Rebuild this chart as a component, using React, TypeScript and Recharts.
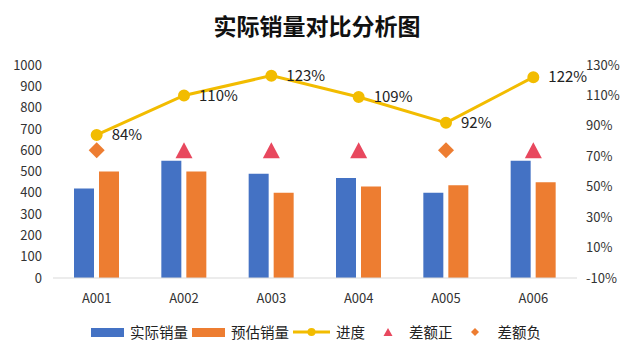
import React from 'react';
import { ComposedChart, Bar, Line, Scatter, XAxis, YAxis, LabelList } from 'recharts';

// categories and series
const categories = ['A001', 'A002', 'A003', 'A004', 'A005', 'A006'];
const actualSales = [420, 550, 490, 470, 400, 550];
const estimatedSales = [500, 500, 400, 430, 435, 450];
const progress = [84, 110, 123, 109, 92, 122];
// marker height for the difference symbols (left axis units)
const diffPositive = [null, 600, 600, 600, null, 600];
const diffNegative = [600, null, null, null, 600, null];

const leftTicks = [0, 100, 200, 300, 400, 500, 600, 700, 800, 900, 1000];
const rightTicks = [-10, 10, 30, 50, 70, 90, 110, 130];

const BLUE = '#4472C4';
const ORANGE = '#ED7D31';
const GOLD = '#F2BC00';
const RED = '#E8485E';
const FONT = '"Noto Sans CJK SC", "Noto Sans", sans-serif';

const data = categories.map((name, i) => ({
  name,
  actual: actualSales[i],
  estimate: estimatedSales[i],
  progress: progress[i],
  pos: diffPositive[i],
  neg: diffNegative[i],
}));

const Triangle = (props: any) => {
  const { cx, cy } = props;
  if (cx == null || cy == null) return null;
  return <polygon points={`${cx},${cy - 8} ${cx + 8.5},${cy + 8} ${cx - 8.5},${cy + 8}`} fill={RED} />;
};

const Diamond = (props: any) => {
  const { cx, cy } = props;
  if (cx == null || cy == null) return null;
  return <polygon points={`${cx},${cy - 8} ${cx + 8},${cy} ${cx},${cy + 8} ${cx - 8},${cy}`} fill={ORANGE} />;
};

const LegendItem = ({ icon, label }: { icon: React.ReactNode; label: string }) => (
  <div style={{ display: 'flex', alignItems: 'center', marginRight: 4 }}>
    {icon}
    <span style={{ marginLeft: 6 }}>{label}</span>
  </div>
);

const App = () => {
  const tickStyle = { fontSize: 13, fill: '#333', fontFamily: FONT };
  return (
    <div style={{ position: 'absolute', left: 0, top: 0, width: 634, height: 356, background: '#fff', fontFamily: FONT }}>
      <div style={{ position: 'absolute', top: 10, width: '100%', textAlign: 'center', fontSize: 23, fontWeight: 'bold', color: '#111', lineHeight: '30px' }}>
        实际销量对比分析图
      </div>
      <ComposedChart width={634} height={356} data={data} margin={{ top: 65, right: 0, left: 0, bottom: 48 }} barSize={20} barGap={5}>
        <XAxis dataKey="name" height={30} tickLine={false} axisLine={{ stroke: '#D9D9D9' }} tickMargin={10} tick={tickStyle} />
        <YAxis yAxisId="left" width={53} domain={[0, 1000]} ticks={leftTicks} axisLine={false} tickLine={false} tickMargin={5} tick={tickStyle} />
        <YAxis yAxisId="right" orientation="right" width={57} domain={[-10, 130]} ticks={rightTicks} axisLine={false} tickLine={false} tickMargin={3} tick={tickStyle} tickFormatter={(v: number) => `${v}%`} />
        <Bar yAxisId="left" dataKey="actual" name="实际销量" fill={BLUE} isAnimationActive={false} />
        <Bar yAxisId="left" dataKey="estimate" name="预估销量" fill={ORANGE} isAnimationActive={false} />
        <Line yAxisId="right" dataKey="progress" name="进度" stroke={GOLD} strokeWidth={3} dot={{ r: 4.5, fill: GOLD, stroke: GOLD }} isAnimationActive={false}>
          <LabelList dataKey="progress" position="right" offset={15} formatter={(v: any) => `${v}%`} style={{ fontSize: 15, fill: '#222', fontFamily: FONT }} />
        </Line>
        <Scatter yAxisId="left" dataKey="pos" name="差额正" shape={<Triangle />} isAnimationActive={false} />
        <Scatter yAxisId="left" dataKey="neg" name="差额负" shape={<Diamond />} isAnimationActive={false} />
      </ComposedChart>
      <div style={{ position: 'absolute', top: 321, left: 91, display: 'flex', fontSize: 14.5, color: '#222', lineHeight: '22px' }}>
        <LegendItem icon={<div style={{ width: 33, height: 9, background: BLUE }} />} label="实际销量" />
        <LegendItem icon={<div style={{ width: 33, height: 9, background: ORANGE }} />} label="预估销量" />
        <LegendItem
          icon={
            <svg width={37} height={10}>
              <line x1={0} y1={5} x2={37} y2={5} stroke={GOLD} strokeWidth={3} />
              <circle cx={18.5} cy={5} r={4} fill={GOLD} />
            </svg>
          }
          label="进度"
        />
        <LegendItem
          icon={
            <svg width={34} height={10}>
              <polygon points="19,1 23.5,9 14.5,9" fill={RED} />
            </svg>
          }
          label="差额正"
        />
        <LegendItem
          icon={
            <svg width={35} height={10}>
              <polygon points="18,1 22,5 18,9 14,5" fill={ORANGE} />
            </svg>
          }
          label="差额负"
        />
      </div>
    </div>
  );
};

export default App;
